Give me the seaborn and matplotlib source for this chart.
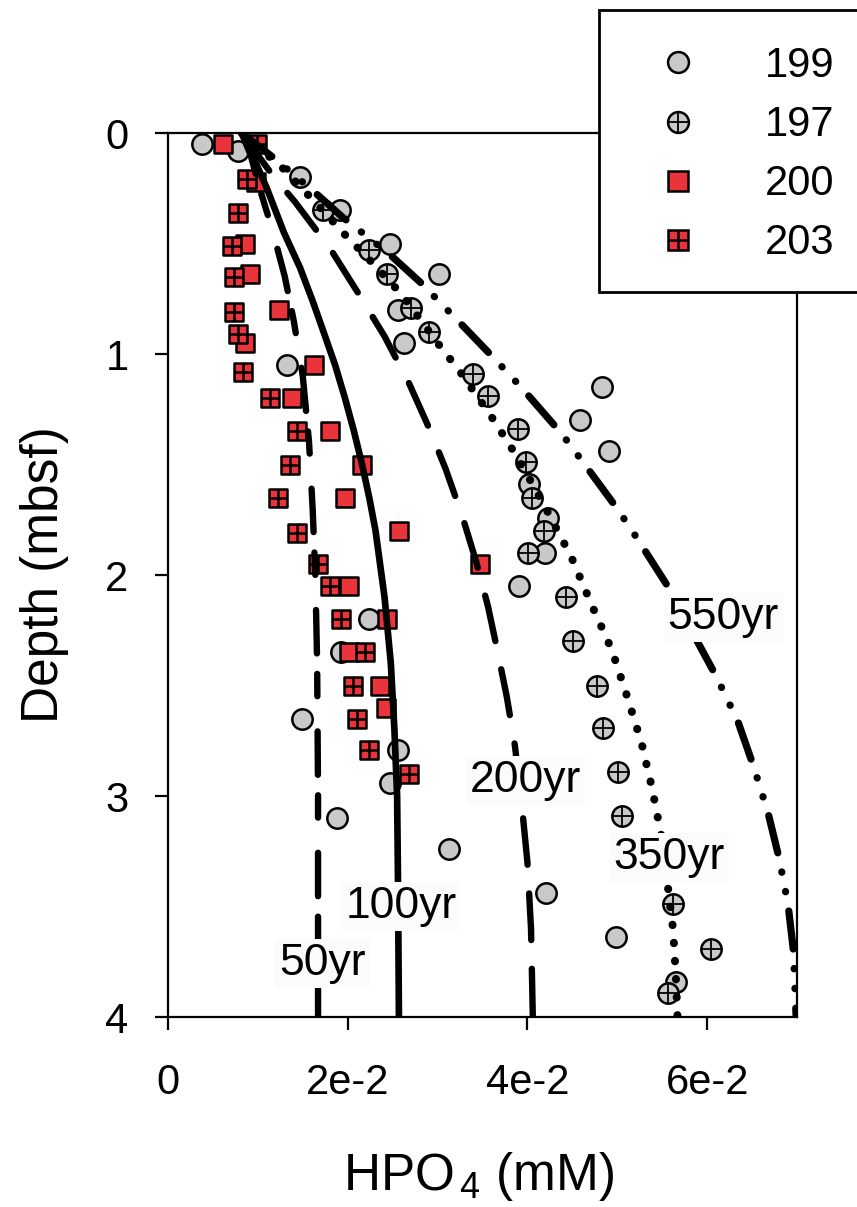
import matplotlib
matplotlib.use("Agg")
import matplotlib.pyplot as plt
import seaborn as sns
from matplotlib.lines import Line2D
from matplotlib.patches import Rectangle
from matplotlib.legend_handler import HandlerTuple

# ---- measured porewater HPO4 (mM) versus depth (mbsf) for four cores ----
core_labels = ["199", "197", "200", "203"]

hpo4_199 = [0.0038, 0.0078, 0.0147, 0.0191, 0.0247, 0.0302, 0.0256, 0.0263, 0.0132,
            0.0483, 0.0459, 0.0491, 0.0402, 0.0423, 0.0420, 0.0391, 0.0224, 0.0193,
            0.0149, 0.0256, 0.0247, 0.0188, 0.0313, 0.0421, 0.0499, 0.0565]
depth_199 = [0.05, 0.08, 0.20, 0.35, 0.50, 0.64, 0.80, 0.95, 1.05,
             1.15, 1.30, 1.44, 1.59, 1.74, 1.90, 2.05, 2.20, 2.35,
             2.65, 2.79, 2.94, 3.10, 3.24, 3.44, 3.64, 3.84]

hpo4_197 = [0.0172, 0.0224, 0.0244, 0.0271, 0.0291, 0.0339, 0.0356, 0.0389, 0.0398,
            0.0405, 0.0418, 0.0401, 0.0443, 0.0451, 0.0477, 0.0484, 0.0501, 0.0505,
            0.0562, 0.0604, 0.0556]
depth_197 = [0.35, 0.53, 0.64, 0.79, 0.90, 1.09, 1.19, 1.34, 1.49,
             1.65, 1.80, 1.90, 2.10, 2.30, 2.50, 2.69, 2.89, 3.09,
             3.49, 3.69, 3.89]

hpo4_200 = [0.0061, 0.0098, 0.0086, 0.0091, 0.0124, 0.0086, 0.0163, 0.0138, 0.0180,
            0.0216, 0.0197, 0.0257, 0.0347, 0.0201, 0.0244, 0.0202, 0.0236, 0.0243]
depth_200 = [0.05, 0.22, 0.50, 0.64, 0.80, 0.95, 1.05, 1.20, 1.35,
             1.50, 1.65, 1.80, 1.95, 2.05, 2.20, 2.35, 2.50, 2.60]

hpo4_203 = [0.0099, 0.0088, 0.0078, 0.0071, 0.0074, 0.0074, 0.0078, 0.0083, 0.0113,
            0.0144, 0.0136, 0.0122, 0.0144, 0.0167, 0.0180, 0.0193, 0.0219, 0.0206,
            0.0210, 0.0224, 0.0268]
depth_203 = [0.05, 0.21, 0.36, 0.51, 0.65, 0.81, 0.91, 1.08, 1.20,
             1.35, 1.50, 1.65, 1.81, 1.95, 2.05, 2.20, 2.35, 2.50,
             2.65, 2.79, 2.90]

# ---- modelled diffusion profiles for different elapsed times ----
model_labels = ["50yr", "100yr", "200yr", "350yr", "550yr"]

m50_x = [0.0082, 0.0092, 0.0102, 0.0117, 0.0130, 0.0140, 0.0150, 0.0157, 0.0161,
         0.0164, 0.0166, 0.0167, 0.0167]
m50_d = [0.00, 0.10, 0.25, 0.45, 0.65, 0.85, 1.10, 1.40, 1.70,
         2.00, 2.40, 3.00, 4.00]

m100_x = [0.0082, 0.0094, 0.0110, 0.0129, 0.0147, 0.0161, 0.0174, 0.0186, 0.0197,
          0.0207, 0.0216, 0.0224, 0.0231, 0.0236, 0.0241, 0.0248, 0.0252, 0.0255,
          0.0256, 0.0257]
m100_d = [0.00, 0.10, 0.25, 0.45, 0.61, 0.76, 0.91, 1.05, 1.20,
          1.35, 1.50, 1.65, 1.80, 1.95, 2.10, 2.40, 2.70, 3.00,
          3.40, 4.00]

m200_x = [0.0082, 0.0100, 0.0118, 0.0141, 0.0180, 0.0211, 0.0241, 0.0268, 0.0290,
          0.0309, 0.0328, 0.0343, 0.0356, 0.0367, 0.0377, 0.0386, 0.0394, 0.0400,
          0.0404, 0.0406]
m200_d = [0.00, 0.10, 0.20, 0.31, 0.52, 0.72, 0.92, 1.13, 1.33,
          1.52, 1.74, 1.94, 2.14, 2.35, 2.55, 2.77, 3.05, 3.30,
          3.60, 4.00]

m350_x = [0.0082, 0.0105, 0.0128, 0.0163, 0.0197, 0.0228, 0.0260, 0.0300, 0.0325,
          0.0361, 0.0383, 0.0403, 0.0422, 0.0449, 0.0472, 0.0494, 0.0511, 0.0527,
          0.0539, 0.0549, 0.0556, 0.0562, 0.0565, 0.0567]
m350_d = [0.00, 0.08, 0.16, 0.31, 0.46, 0.59, 0.73, 0.95, 1.08,
          1.29, 1.43, 1.57, 1.71, 1.92, 2.14, 2.34, 2.55, 2.76,
          2.97, 3.18, 3.40, 3.60, 3.80, 4.00]

m550_x = [0.0082, 0.0120, 0.0161, 0.0194, 0.0247, 0.0282, 0.0330, 0.0363, 0.0393,
          0.0438, 0.0462, 0.0500, 0.0523, 0.0556, 0.0589, 0.0609, 0.0634, 0.0652,
          0.0668, 0.0680, 0.0690, 0.0696, 0.0699]
m550_d = [0.00, 0.12, 0.26, 0.38, 0.55, 0.68, 0.88, 1.02, 1.15,
          1.36, 1.49, 1.70, 1.84, 2.05, 2.30, 2.45, 2.66, 2.87,
          3.08, 3.28, 3.49, 3.70, 4.00]

# label anchor for each modelled curve (HPO4, depth)
label_x = [0.0172, 0.0259, 0.0398, 0.0558, 0.0618]
label_d = [3.76, 3.50, 2.93, 3.28, 2.19]

x_ticks = [0.0, 0.02, 0.04, 0.06]
x_tick_labels = ["0", "2e-2", "4e-2", "6e-2"]
y_ticks = [0, 1, 2, 3, 4]
y_tick_labels = ["0", "1", "2", "3", "4"]

# ---- style ----
sns.set_style("ticks")
plt.rcParams["font.family"] = ["Liberation Sans", "DejaVu Sans"]
plt.rcParams["mathtext.fontset"] = "custom"
plt.rcParams["mathtext.rm"] = "Liberation Sans"
plt.rcParams["mathtext.it"] = "Liberation Sans"
plt.rcParams["mathtext.bf"] = "Liberation Sans"
plt.rcParams["axes.linewidth"] = 1.6
for key in ["text.color", "axes.labelcolor", "xtick.color", "ytick.color",
            "axes.edgecolor", "xtick.labelcolor", "ytick.labelcolor"]:
    plt.rcParams[key] = "black"

GRAY = "#c9c9c9"
RED = "#e8343a"
EDGE_LW = 1.8
S_CIRC = 215
S_SQ = 170

fig = plt.figure(figsize=(8.57, 12.07), dpi=100)
ax = fig.add_axes([0.1960, 0.1574, 0.7340, 0.7324])

# data markers: plain circles, crossed circles, plain squares, gridded squares
sns.scatterplot(x=hpo4_199, y=depth_199, marker="o", s=S_CIRC, color=GRAY,
                edgecolor="black", linewidth=EDGE_LW, ax=ax, zorder=3)
sns.scatterplot(x=hpo4_197, y=depth_197, marker="o", s=S_CIRC, color=GRAY,
                edgecolor="black", linewidth=EDGE_LW, ax=ax, zorder=3.1)
sns.scatterplot(x=hpo4_197, y=depth_197, marker="+", s=S_CIRC, color="black",
                linewidth=1.3, ax=ax, zorder=3.2)
sns.scatterplot(x=hpo4_200, y=depth_200, marker="s", s=S_SQ, color=RED,
                edgecolor="black", linewidth=EDGE_LW, ax=ax, zorder=3.3)
sns.scatterplot(x=hpo4_203, y=depth_203, marker="s", s=S_SQ, color=RED,
                edgecolor="black", linewidth=EDGE_LW, ax=ax, zorder=3.4)
sns.scatterplot(x=hpo4_203, y=depth_203, marker="+", s=S_SQ, color="black",
                linewidth=1.8, ax=ax, zorder=3.5)

# model curves drawn over the markers: (x, depth, line width, dash pattern)
curves = [
    (m50_x, m50_d, 4.6, [6.8, 3.2, 3.5, 5.5]),
    (m100_x, m100_d, 4.8, None),
    (m200_x, m200_d, 4.6, [7.3, 4.5]),
    (m350_x, m350_d, 5.8, [0.05, 2.2]),
    (m550_x, m550_d, 5.2, [5.3, 2.7, 0.05, 2.7, 0.05, 2.7]),
]
for cx, cd, lw, dash in curves:
    sns.lineplot(x=cx, y=cd, sort=False, estimator=None, color="black",
                 linewidth=lw, ax=ax, zorder=4)
    line = ax.lines[-1]
    line.set_solid_capstyle("round")
    line.set_solid_joinstyle("round")
    line.set_dash_capstyle("round")
    if dash is not None:
        line.set_dashes(dash)

for lx, ld, txt in zip(label_x, label_d, model_labels):
    ax.text(lx, ld, txt, ha="center", va="center", fontsize=32, zorder=6,
            color="black",
            bbox=dict(facecolor="#fbfbfb", edgecolor="none", pad=3))

# axes
ax.set_xlim(0, 0.07)
ax.set_ylim(4, 0)
ax.set_xticks(x_ticks)
ax.set_xticklabels(x_tick_labels)
ax.set_yticks(y_ticks)
ax.set_yticklabels(y_tick_labels)
ax.tick_params(direction="out", length=9.4, width=1.6, labelsize=30,
               colors="black")
ax.tick_params(axis="x", pad=24)
ax.tick_params(axis="y", pad=19)
for sp in ax.spines.values():
    sp.set_visible(True)
    sp.set_color("black")
    sp.set_linewidth(1.6)

ax.set_ylabel("Depth (mbsf)", fontsize=37, color="black")
ax.set_xlabel("HPO$_{\\,4}$ (mM)", fontsize=37, color="black")
ax.yaxis.set_label_coords(-0.158, 0.5)
ax.xaxis.set_label_coords(0.494, -0.150)

# legend panel over the top-right corner
box = Rectangle((0.6989, 0.7581), 0.32, 0.2336, transform=fig.transFigure,
                facecolor="white", edgecolor="black", linewidth=2.0,
                zorder=10, clip_on=False)
fig.add_artist(box)

ms = 15.0
h199 = Line2D([], [], ls="none", marker="o", ms=ms, mfc=GRAY, mec="black", mew=EDGE_LW)
h197 = (Line2D([], [], ls="none", marker="o", ms=ms, mfc=GRAY, mec="black", mew=EDGE_LW),
        Line2D([], [], ls="none", marker="+", ms=ms, color="black", mew=1.3))
h200 = Line2D([], [], ls="none", marker="s", ms=ms * 0.92, mfc=RED, mec="black", mew=EDGE_LW)
h203 = (Line2D([], [], ls="none", marker="s", ms=ms * 0.92, mfc=RED, mec="black", mew=EDGE_LW),
        Line2D([], [], ls="none", marker="+", ms=ms * 0.92, color="black", mew=1.8))
leg = fig.legend([h199, h197, h200, h203], core_labels,
                 handler_map={tuple: HandlerTuple(ndivide=1, pad=0)},
                 loc="upper left", bbox_to_anchor=(0.7666, 0.9619),
                 bbox_transform=fig.transFigure, frameon=False, fontsize=30,
                 borderpad=0, borderaxespad=0, handlelength=1.0,
                 handletextpad=1.58, labelspacing=0.46)
for t in leg.get_texts():
    t.set_color("black")
leg.set_zorder(11)

fig.savefig("out.png", dpi=100)
